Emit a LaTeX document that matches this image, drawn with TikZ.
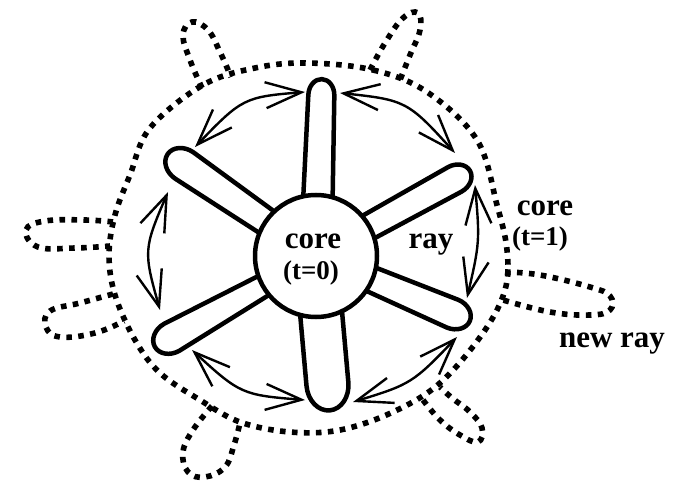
\documentclass[tikz,border=0pt]{standalone}
\usepackage{fontspec}
\setmainfont{Liberation Serif}
\usetikzlibrary{arrows.meta,bending}
\newcommand\mypetal[4]{%
  \draw[petal, shift={(core.center)}, rotate=#1]
    (40,-#3) -- ({#2-1.25*#4},-#4)
    arc[start angle=-90,end angle=90,x radius={1.25*#4},y radius=#4]
    -- (40,#3);}
\begin{document}
\begin{tikzpicture}[x=1pt,y=-1pt,
  dotline/.style={line width=5.6pt, dash pattern=on 5.6pt off 6.4pt},
  petal/.style={line width=4.5pt, line join=round},
  corecircle/.style={circle, draw, line width=4.5pt, fill=white, minimum size=122pt, inner sep=0pt},
  swaparrow/.style={line width=2.4pt, {Straight Barb[length=36pt,width=26pt]}-{Straight Barb[length=36pt,width=26pt]}},
  lbl/.style={font=\bfseries\fontsize{31}{34}\selectfont, inner sep=0pt, anchor=base},
  sublbl/.style={font=\bfseries\fontsize{27}{30}\selectfont, inner sep=0pt, anchor=base}]
\useasboundingbox (0,0) rectangle (677,481);

% outer dotted core (t=1)
\draw[dotline] plot[smooth cycle, tension=0.6] coordinates {
  (307,63) (373,70) (427,92) (477,140) (497,205) (507,250) (505,290)
  (483,333) (440,383) (393,412) (340,430) (290,432) (240,422) (200,400)
  (160,373) (135,340) (115,295) (109,255) (115,215) (130,175) (150,128)
  (203,85) (255,68)};
% dotted loops (rays)
\draw[dotline] plot[smooth, tension=0.7] coordinates {(202,88) (190,60) (183,35) (192,22) (208,30) (220,52) (231,77)};
\draw[dotline] plot[smooth, tension=0.7] coordinates {(370,70) (385,43) (403,18) (418,13) (420,30) (410,55) (400,80)};
\draw[dotline] plot[smooth, tension=0.7] coordinates {(113,222) (85,220) (45,221) (26,230) (38,247) (75,248) (110,246)};
\draw[dotline] plot[smooth, tension=0.7] coordinates {(113,294) (80,303) (50,311) (46,327) (60,337) (95,333) (124,321)};
\draw[dotline] plot[smooth, tension=0.7] coordinates {(505,272) (540,275) (590,287) (610,296) (610,310) (590,315) (550,312) (503,300)};
\draw[dotline] plot[smooth, tension=0.7] coordinates {(212,406) (193,430) (183,452) (188,472) (205,477) (225,467) (234,445) (240,423)};
\draw[dotline] plot[smooth, tension=0.7] coordinates {(423,400) (440,420) (460,435) (478,442) (482,428) (470,412) (452,398) (440,387)};

% core circle position (drawn later over petal bases)
\coordinate (core) at (316,256);
\mypetal{88.1}{177}{15}{13}
\mypetal{28.9}{176}{12.5}{14}
\mypetal{-22.9}{167}{12}{15}
\mypetal{-84.9}{155}{21}{21}
\mypetal{-150.6}{185}{10}{15.5}
\mypetal{145.5}{180}{12.5}{16}
\node[corecircle] (corec) at (core) {};

% arrows
\coordinate (a1) at (195,147); \coordinate (b1) at (305,92);
\coordinate (a2) at (340,93);  \coordinate (b2) at (455,153);
\coordinate (a3) at (475,185); \coordinate (b3) at (467,298);
\coordinate (a4) at (168,192); \coordinate (b4) at (160,310);
\coordinate (a5) at (192,350); \coordinate (b5) at (305,400);
\coordinate (a6) at (353,402); \coordinate (b6) at (457,337);
\draw[swaparrow] (a1) .. controls (243,97) .. (b1);
\draw[swaparrow] (a2) .. controls (407,100) .. (b2);
\draw[swaparrow] (a3) .. controls (480,242) .. (b3);
\draw[swaparrow] (a4) .. controls (143,250) .. (b4);
\draw[swaparrow] (a5) .. controls (241,395) .. (b5);
\draw[swaparrow] (a6) .. controls (412,384) .. (b6);

% labels
\node[lbl] (t0a) at (313,248) {core};
\node[sublbl] (t0b) at (311,279) {(t=0)};
\node[lbl] (ray) at (431,248) {ray};
\node[lbl] (t1a) at (545,215) {core};
\node[sublbl] (t1b) at (540,245) {(t=1)};
\node[lbl] (nray) at (612,347) {new ray};
\end{tikzpicture}
\end{document}
